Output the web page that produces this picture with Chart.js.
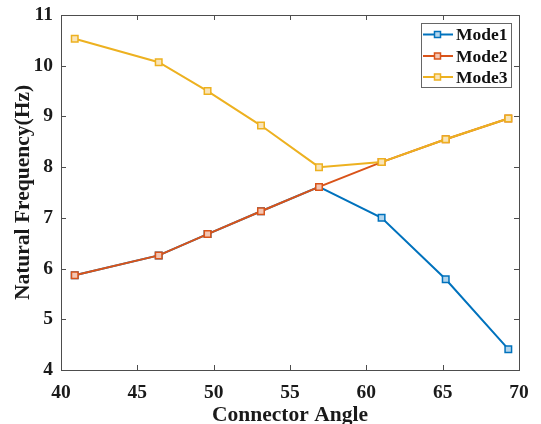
<!DOCTYPE html>
<html>
<head>
<meta charset="utf-8">
<script src="https://cdn.jsdelivr.net/npm/chart.js@4"></script>
<style>
html, body { margin: 0; padding: 0; background: #fff; }
</style>
</head>
<body>
<canvas id="myChart" width="541" height="424"></canvas>
<script>
// connector angle vs natural frequency
const angles = [40.9, 46.4, 49.6, 53.1, 56.9, 61.0, 65.2, 69.3];
const mode1 = [5.87, 6.26, 6.68, 7.13, 7.61, 7.00, 5.79, 4.41];
const mode2 = [5.87, 6.26, 6.68, 7.13, 7.61, 8.10, 8.55, 8.96];
const mode3 = [10.53, 10.07, 9.50, 8.82, 8.00, 8.10, 8.55, 8.96];
const seriesNames = ['Mode1', 'Mode2', 'Mode3'];
const xTicks = [40, 45, 50, 55, 60, 65, 70];
const yTicks = [4, 5, 6, 7, 8, 9, 10, 11];

const colors = ['#0072BD', '#D95319', '#EDB120'];
const tints = ['#b3d5ec', '#f3c6b3', '#f9e4b8'];
const serif = "'Liberation Serif', 'Times New Roman', serif";
const axisCol = '#4d4d4d';

function pts(ys) {
	return angles.map((x, i) => ({ x: x, y: ys[i] }));
}

function makeSet(i, ys) {
	return {
		label: seriesNames[i],
		data: pts(ys),
		borderColor: colors[i],
		backgroundColor: tints[i],
		borderWidth: 2,
		pointStyle: 'rect',
		pointRadius: 4.6,
		pointBorderWidth: 1.5,
		pointBorderColor: colors[i],
		pointBackgroundColor: tints[i],
		// last series on top like matlab
		order: 3 - i
	};
}

// box, inward ticks and the legend
const matlabBox = {
	id: 'matlabBox',
	afterDraw(chart) {
		const c = chart.ctx;
		const a = chart.chartArea;
		const sx = chart.scales.x, sy = chart.scales.y;
		c.save();
		c.strokeStyle = axisCol;
		c.lineWidth = 1;
		c.beginPath();
		c.moveTo(a.left, a.top + 0.5);
		c.lineTo(a.right + 0.5, a.top + 0.5);
		c.lineTo(a.right + 0.5, a.bottom);
		for (const t of xTicks) {
			const px = Math.round(sx.getPixelForValue(t)) + 0.5;
			c.moveTo(px, a.bottom); c.lineTo(px, a.bottom - 5);
			c.moveTo(px, a.top); c.lineTo(px, a.top + 5);
		}
		for (const t of yTicks) {
			const py = Math.round(sy.getPixelForValue(t)) + 0.5;
			c.moveTo(a.left, py); c.lineTo(a.left + 5, py);
			c.moveTo(a.right, py); c.lineTo(a.right - 5, py);
		}
		c.stroke();

		// legend
		const bx = 421.5, by = 23.5, bw = 90, bh = 64;
		c.fillStyle = '#fff';
		c.fillRect(bx, by, bw, bh);
		c.strokeStyle = '#666';
		c.strokeRect(bx, by, bw, bh);
		c.font = 'bold 17.5px ' + serif;
		c.textBaseline = 'middle';
		c.textAlign = 'left';
		const rows = [34.5, 56, 77];
		chart.data.datasets.forEach((ds, i) => {
			const y = rows[i];
			c.strokeStyle = ds.borderColor;
			c.lineWidth = 2;
			c.beginPath();
			c.moveTo(423, y); c.lineTo(453, y);
			c.stroke();
			c.lineWidth = 1.5;
			c.fillStyle = ds.backgroundColor;
			c.fillRect(434.5, y - 3, 6, 6);
			c.strokeRect(434.5, y - 3, 6, 6);
			c.fillStyle = '#111';
			c.fillText(ds.label, 456, y + 1);
		});
		c.restore();
	}
};

new Chart(document.getElementById('myChart'), {
	type: 'line',
	data: {
		datasets: [makeSet(0, mode1), makeSet(1, mode2), makeSet(2, mode3)]
	},
	options: {
		responsive: false,
		animation: false,
		layout: { padding: { top: 15, right: 22, left: 0, bottom: 0 } },
		plugins: { legend: { display: false }, tooltip: { enabled: false } },
		scales: {
			x: {
				type: 'linear',
				min: 40,
				max: 70,
				afterBuildTicks: (s) => { s.ticks = xTicks.map(v => ({ value: v })); },
				afterFit: (s) => { s.height = 54; s.paddingLeft = 0; s.paddingRight = 0; },
				grid: { display: false, drawTicks: false },
				border: { display: true, color: axisCol, width: 1 },
				ticks: { color: '#1a1a1a', padding: 11, font: { family: serif, size: 19.5, weight: 'bold' } },
				title: {
					display: true,
					text: 'Connector Angle',
					color: '#1a1a1a',
					padding: { top: 0, bottom: -4.5 },
					font: { family: serif, size: 21.5, weight: 'bold' }
				}
			},
			y: {
				min: 4,
				max: 11,
				afterBuildTicks: (s) => { s.ticks = yTicks.map(v => ({ value: v })); },
				afterFit: (s) => { s.width = 61; s.paddingTop = 0; s.paddingBottom = 0; },
				grid: { display: false, drawTicks: false },
				border: { display: true, color: axisCol, width: 1 },
				ticks: { color: '#1a1a1a', padding: 8, font: { family: serif, size: 19.5, weight: 'bold' } },
				title: {
					display: true,
					text: 'Natural Frequency(Hz)',
					color: '#1a1a1a',
					padding: { top: 10.5, bottom: 0 },
					font: { family: serif, size: 21.5, weight: 'bold' }
				}
			}
		}
	},
	plugins: [matlabBox]
});
</script>
</body>
</html>
